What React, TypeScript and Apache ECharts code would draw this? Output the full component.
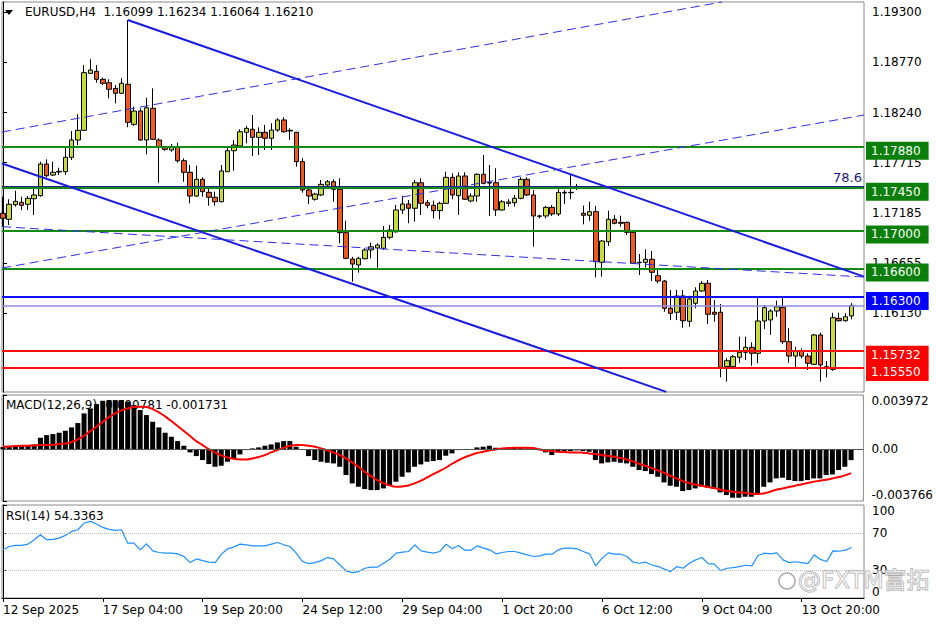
import React, { useEffect, useRef } from "react";
import * as echarts from "echarts";

// ---------- DATA ----------
const opens = [1.17180,1.17117,1.17271,1.17296,1.17275,1.17334,1.17366,1.17699,1.17583,1.17615,
1.17618,1.17770,1.17952,1.18054,1.18654,1.18676,1.18591,1.18555,1.18496,1.18444,
1.18539,1.18117,1.18257,1.17952,1.18286,1.17952,1.17875,1.17847,1.17875,1.17734,
1.17612,1.17362,1.17538,1.17401,1.17349,1.17302,1.17618,1.17839,1.17889,1.18033,
1.18065,1.17980,1.18033,1.17970,1.18057,1.18163,1.18054,1.18033,1.17724,1.17426,
1.17328,1.17373,1.17478,1.17513,1.17433,1.16976,1.16699,1.16636,1.16702,1.16794,
1.16815,1.16812,1.16927,1.16986,1.17215,1.17278,1.17233,1.17502,1.17292,1.17264,
1.17208,1.17285,1.17559,1.17366,1.17573,1.17310,1.17362,1.17591,1.17502,1.17502,
1.17215,1.17285,1.17292,1.17338,1.17538,1.17373,1.17152,1.17152,1.17243,1.17173,
1.17401,1.17397,1.17457,1.17180,1.17159,1.17197,1.16664,1.16881,1.17117,1.17085,
1.17085,1.16980,1.16664,1.16664,1.16696,1.16523,1.16467,1.16180,1.16138,1.16309,
1.16043,1.16232,1.16362,1.16443,1.16138,1.16138,1.15565,1.15565,1.15664,1.15716,
1.15769,1.15706,1.16046,1.16057,1.16151,1.16190,1.15828,1.15677,1.15733,1.15677,
1.15590,1.15899,1.15565,1.15537,1.16074,1.16049,1.16099];
const highs = [1.17355,1.17328,1.17418,1.17355,1.17362,1.17454,1.17724,1.17749,1.17724,1.17660,
1.17871,1.18047,1.18223,1.18742,1.18802,1.18742,1.18608,1.18591,1.18531,1.18602,
1.19216,1.18303,1.18286,1.18397,1.18496,1.17970,1.17889,1.17910,1.17924,1.17759,
1.17689,1.17681,1.17559,1.17460,1.17408,1.17689,1.17889,1.17952,1.18065,1.18099,
1.18215,1.18086,1.18110,1.18128,1.18181,1.18191,1.18075,1.18039,1.17759,1.17443,
1.17397,1.17531,1.17531,1.17538,1.17549,1.17102,1.16723,1.16723,1.16812,1.16871,
1.16864,1.17046,1.17057,1.17268,1.17362,1.17320,1.17531,1.17549,1.17320,1.17313,
1.17302,1.17618,1.17601,1.17612,1.17612,1.17391,1.17601,1.17794,1.17689,1.17654,
1.17320,1.17328,1.17373,1.17559,1.17559,1.17426,1.17165,1.17257,1.17268,1.17443,
1.17426,1.17583,1.17489,1.17260,1.17302,1.17257,1.16899,1.17208,1.17162,1.17155,
1.17092,1.16997,1.16752,1.16801,1.16783,1.16590,1.16478,1.16372,1.16372,1.16372,
1.16312,1.16401,1.16467,1.16478,1.16267,1.16225,1.15653,1.15688,1.15881,1.15881,
1.15822,1.16296,1.16214,1.16169,1.16260,1.16296,1.15969,1.15775,1.15758,1.15706,
1.15909,1.15923,1.15625,1.16133,1.16133,1.16127,1.16234];
const lows = [1.17039,1.17057,1.17250,1.17215,1.17215,1.17162,1.17355,1.17559,1.17573,1.17583,
1.17583,1.17741,1.17899,1.18050,1.18647,1.18555,1.18531,1.18391,1.18338,1.18436,
1.18086,1.18099,1.17945,1.17801,1.17952,1.17502,1.17839,1.17829,1.17713,1.17513,
1.17285,1.17355,1.17355,1.17260,1.17260,1.17296,1.17618,1.17629,1.17882,1.17917,
1.17784,1.17794,1.17847,1.17847,1.18039,1.18029,1.17952,1.17671,1.17397,1.17278,
1.17313,1.17362,1.17460,1.17302,1.16864,1.16696,1.16460,1.16555,1.16696,1.16706,
1.16607,1.16794,1.16906,1.16976,1.17173,1.17075,1.17092,1.17162,1.17233,1.17127,
1.17117,1.17278,1.17328,1.17162,1.17320,1.17296,1.17302,1.17485,1.17152,1.17152,
1.17208,1.17250,1.17250,1.17328,1.17362,1.16828,1.17127,1.17127,1.17152,1.17152,
1.17278,1.17328,1.17426,1.17064,1.17102,1.16506,1.16512,1.16836,1.17064,1.17039,
1.16952,1.16646,1.16530,1.16611,1.16467,1.16443,1.16144,1.16057,1.16057,1.15975,
1.15986,1.16180,1.16355,1.16014,1.16039,1.15453,1.15407,1.15548,1.15607,1.15635,
1.15575,1.15601,1.15962,1.15899,1.16091,1.15804,1.15607,1.15558,1.15653,1.15530,
1.15583,1.15407,1.15453,1.15522,1.16039,1.16039,1.16064];
const closes = [1.17127,1.17275,1.17306,1.17264,1.17338,1.17373,1.17699,1.17576,1.17612,1.17622,
1.17770,1.17952,1.18054,1.18661,1.18689,1.18591,1.18549,1.18486,1.18444,1.18549,
1.18138,1.18257,1.17952,1.18292,1.17959,1.17875,1.17854,1.17882,1.17734,1.17612,
1.17362,1.17538,1.17408,1.17349,1.17302,1.17626,1.17839,1.17899,1.18039,1.18075,
1.17980,1.18033,1.17970,1.18057,1.18163,1.18039,1.18047,1.17724,1.17426,1.17362,
1.17383,1.17485,1.17513,1.17433,1.16976,1.16706,1.16646,1.16706,1.16794,1.16828,
1.16846,1.16927,1.17004,1.17215,1.17278,1.17233,1.17502,1.17285,1.17264,1.17208,
1.17285,1.17559,1.17373,1.17573,1.17328,1.17362,1.17591,1.17496,1.17499,1.17215,
1.17302,1.17299,1.17338,1.17538,1.17373,1.17152,1.17149,1.17243,1.17173,1.17401,
1.17394,1.17401,1.17462,1.17159,1.17197,1.16670,1.16888,1.17117,1.17075,1.17075,
1.16980,1.16654,1.16660,1.16696,1.16559,1.16467,1.16180,1.16127,1.16309,1.16049,
1.16278,1.16362,1.16443,1.16117,1.16117,1.15558,1.15628,1.15670,1.15716,1.15769,
1.15706,1.16046,1.16186,1.16151,1.16196,1.15828,1.15677,1.15733,1.15677,1.15601,
1.15899,1.15583,1.15548,1.16081,1.16049,1.16091,1.16210];

const macdHist = [0.000170,0.000219,0.000243,0.000268,0.000292,0.000365,0.000852,0.001046,0.001119,0.001217,
0.001362,0.001606,0.001922,0.002628,0.002993,0.003309,0.003552,0.003601,0.003601,0.003601,
0.003479,0.003236,0.002871,0.002506,0.002019,0.001606,0.001217,0.000925,0.000608,0.000268,
-0.000219,-0.000487,-0.000779,-0.001071,-0.001265,-0.001192,-0.000900,-0.000657,-0.000365,-0.000049,
0.000073,0.000146,0.000268,0.000365,0.000511,0.000608,0.000608,0.000195,-0.000010,-0.000487,
-0.000779,-0.000900,-0.000973,-0.001022,-0.001265,-0.001873,-0.002482,-0.002725,-0.002895,-0.002968,
-0.002968,-0.002847,-0.002652,-0.002360,-0.001995,-0.001679,-0.001265,-0.001095,-0.000900,-0.000852,
-0.000779,-0.000462,-0.000292,-0.000049,-0.000010,0.000024,0.000146,0.000195,0.000268,0.000122,
0.000073,0.000122,0.000097,0.000097,0.000073,0.000073,0.000049,-0.000219,-0.000414,-0.000219,
-0.000170,-0.000122,-0.000073,-0.000122,-0.000170,-0.000779,-0.001022,-0.000949,-0.000900,-0.000973,
-0.001022,-0.001265,-0.001508,-0.001581,-0.001800,-0.001995,-0.002409,-0.002652,-0.002725,-0.003041,
-0.002968,-0.002847,-0.002725,-0.002798,-0.002895,-0.003139,-0.003333,-0.003528,-0.003528,-0.003455,
-0.003455,-0.003285,-0.002725,-0.002409,-0.002117,-0.002068,-0.002238,-0.002311,-0.002311,-0.002238,
-0.002117,-0.002117,-0.001873,-0.001825,-0.001508,-0.001265,-0.000781];

const macdSignal = [0.000195,0.000219,0.000243,0.000268,0.000268,0.000292,0.000316,0.000316,0.000341,0.000389,
0.000438,0.000535,0.000730,0.000998,0.001338,0.001654,0.002019,0.002360,0.002628,0.002847,
0.002993,0.003090,0.003114,0.003090,0.002944,0.002701,0.002409,0.002068,0.001703,0.001338,
0.000973,0.000608,0.000316,0.000024,-0.000219,-0.000438,-0.000584,-0.000681,-0.000730,-0.000730,
-0.000657,-0.000560,-0.000414,-0.000219,-0.000049,0.000122,0.000243,0.000316,0.000316,0.000268,
0.000195,0.000073,-0.000073,-0.000219,-0.000414,-0.000657,-0.000949,-0.001265,-0.001630,-0.001946,
-0.002238,-0.002457,-0.002628,-0.002725,-0.002701,-0.002628,-0.002482,-0.002287,-0.002044,-0.001800,
-0.001581,-0.001338,-0.001046,-0.000803,-0.000584,-0.000414,-0.000268,-0.000170,-0.000073,0.000000,
0.000073,0.000097,0.000122,0.000122,0.000122,0.000097,0.000000,-0.000073,-0.000122,-0.000170,
-0.000195,-0.000219,-0.000219,-0.000243,-0.000292,-0.000341,-0.000414,-0.000462,-0.000535,-0.000633,
-0.000730,-0.000876,-0.001046,-0.001192,-0.001362,-0.001533,-0.001703,-0.001922,-0.002117,-0.002311,
-0.002457,-0.002555,-0.002652,-0.002749,-0.002822,-0.002920,-0.003017,-0.003090,-0.003139,-0.003163,
-0.003236,-0.003260,-0.003212,-0.003090,-0.002944,-0.002847,-0.002749,-0.002652,-0.002555,-0.002457,
-0.002360,-0.002287,-0.002214,-0.002117,-0.002019,-0.001898,-0.001731];

const rsiValues = [51.8,55.4,56.5,56.5,57.9,62.6,68.0,62.6,63.0,64.4,
67.3,71.6,73.4,80.6,82.4,79.5,75.9,73.8,72.7,73.4,
59.0,59.0,51.8,58.3,50.7,48.9,48.2,48.2,47.5,44.6,
38.1,42.0,40.2,38.5,38.1,47.1,52.9,55.0,57.9,57.2,
56.1,56.1,56.1,57.9,59.7,57.2,55.4,48.2,39.2,37.0,
38.1,40.2,43.5,42.0,35.5,29.1,27.3,28.4,32.0,33.1,
33.1,37.4,41.7,48.2,49.3,50.0,57.2,50.7,49.3,48.2,
50.0,57.9,52.9,56.5,51.4,51.4,56.1,53.6,51.8,47.5,
48.9,50.0,50.0,48.2,46.4,44.6,45.3,47.1,47.1,51.8,
53.6,53.6,52.9,50.0,47.5,34.5,42.8,48.5,47.1,47.1,
44.6,38.5,37.4,38.5,35.5,33.8,31.0,28.4,33.8,32.0,
37.4,41.0,43.5,37.0,36.5,29.5,32.0,32.7,33.8,35.2,
34.5,45.7,48.2,47.5,48.5,41.0,38.0,39.0,38.0,37.0,
46.4,41.5,39.2,50.7,50.3,51.5,54.3363];

const xTickIndex = [0, 16, 32, 48, 64, 80, 96, 112, 128];
const xTickLabels = ["12 Sep 2025", "17 Sep 04:00", "19 Sep 20:00", "24 Sep 12:00", "29 Sep 04:00", "1 Oct 20:00", "6 Oct 12:00", "9 Oct 04:00", "13 Oct 20:00"];
const priceTicks = [1.1613, 1.16655, 1.17185, 1.17715, 1.1824, 1.1877, 1.193];
const macdTicks = [-0.003766, 0, 0.003972];
const rsiTicks = [0, 30, 70, 100];

const greenLevels = [1.1788, 1.1745, 1.17, 1.166];
const blueLevels = [1.163];
const redLevels = [1.15732, 1.1555];
const fibLevel = 1.17465;
const bidLevel = 1.1621;

// trend lines: [startIndex, startPrice, endIndex, endPrice]
const solidTrends = [
  [20, 1.19216, 137.98, 1.16513],
  [-0.16, 1.17705, 106.3, 1.153],
];
const dashedTrends = [
  [-0.16, 1.18036, 115.2, 1.19405],
  [-0.16, 1.16604, 137.98, 1.18215],
  [-0.16, 1.17039, 137.98, 1.16509],
];

const headerText = "EURUSD,H4  1.16099 1.16234 1.16064 1.16210";
const macdText = "MACD(12,26,9) -0.000781 -0.001731";
const rsiText = "RSI(14) 54.3363";

// ---------- OPTION ----------
const FONT = "'DejaVu Sans', sans-serif";
const X_MIN = -0.16;
const X_MAX = 137.98;

function levelLabel(text: string, bg: string) {
  return {
    show: true,
    position: "end",
    formatter: text,
    color: "#fff",
    backgroundColor: bg,
    padding: [2, 8, 2, 5],
    lineHeight: 14,
    fontSize: 12,
    fontFamily: FONT,
    distance: 2,
    offset: [0, 4],
  };
}

function hLine(price: number, color: string, width: number, label: any) {
  return [
    { coord: [X_MIN, price], lineStyle: { color, width, type: "solid" }, label },
    { coord: [X_MAX, price] },
  ];
}

function buildOption() {
  const candleData = opens.map((o, i) => [i, o, closes[i], lows[i], highs[i]]);
  const lineItems: any[] = [];
  lineItems.push(
    hLine(fibLevel, "#20208a", 1, {
      show: true,
      position: "insideEndTop",
      formatter: "78.6",
      color: "#1a1a7a",
      fontSize: 13,
      fontFamily: FONT,
      distance: 2,
    })
  );
  greenLevels.forEach((p) => lineItems.push(hLine(p, "#138a13", 2, levelLabel(p.toFixed(5), "#0a800a"))));
  lineItems.push(hLine(bidLevel, "#8c8ce0", 1.5, { show: false }));
  blueLevels.forEach((p) => lineItems.push(hLine(p, "#1010ff", 2, levelLabel(p.toFixed(5), "#0000ff"))));
  redLevels.forEach((p) => lineItems.push(hLine(p, "#ff1010", 2, levelLabel(p.toFixed(5), "#ff0000"))));
  solidTrends.forEach((t) =>
    lineItems.push([
      { coord: [t[0], t[1]], lineStyle: { color: "#1a1ae0", width: 2, type: "solid" }, label: { show: false } },
      { coord: [t[2], t[3]] },
    ])
  );
  dashedTrends.forEach((t) =>
    lineItems.push([
      { coord: [t[0], t[1]], lineStyle: { color: "#2f2fe6", width: 1, type: [9, 5] }, label: { show: false } },
      { coord: [t[2], t[3]] },
    ])
  );

  const baseX = {
    type: "value",
    min: X_MIN,
    max: X_MAX,
    splitLine: { show: false },
    axisLine: { show: false },
    axisTick: { show: false },
    axisLabel: { show: false },
  };

  const labelStyle = { color: "#000", fontSize: 12, fontFamily: FONT };

  return {
    animation: false,
    backgroundColor: "#fff",
    grid: [
      { left: 2, top: 2, width: 862, height: 390, show: true, borderColor: "#8a8a8a", borderWidth: 1 },
      { left: 2, top: 395, width: 862, height: 106, show: true, borderColor: "#8a8a8a", borderWidth: 1 },
      { left: 2, top: 505, width: 862, height: 93, show: true, borderColor: "#8a8a8a", borderWidth: 1 },
    ],
    xAxis: [
      { ...baseX, gridIndex: 0 },
      { ...baseX, gridIndex: 1 },
      {
        ...baseX,
        gridIndex: 2,
        position: "bottom",
        axisLine: { show: true, lineStyle: { color: "#000" } },
        axisTick: { show: true, customValues: xTickIndex, length: 4, lineStyle: { color: "#000" } },
        axisLabel: {
          show: true,
          customValues: xTickIndex,
          formatter: (v: number) => {
            const k = xTickIndex.indexOf(Math.round(v));
            return k >= 0 ? xTickLabels[k] : "";
          },
          align: "left",
          margin: 6,
          ...labelStyle,
        },
      },
    ],
    yAxis: [
      {
        type: "value",
        gridIndex: 0,
        position: "right",
        min: 1.152983,
        max: 1.194053,
        splitLine: { show: false },
        axisLine: { show: true, lineStyle: { color: "#000" } },
        axisTick: { show: true, customValues: priceTicks, length: 4, lineStyle: { color: "#000" } },
        axisLabel: { customValues: priceTicks, formatter: (v: number) => v.toFixed(5), margin: 8, ...labelStyle },
      },
      {
        type: "value",
        gridIndex: 1,
        position: "right",
        min: -0.003766,
        max: 0.003972,
        splitLine: { show: false },
        axisLine: { show: true, lineStyle: { color: "#000" } },
        axisTick: { show: true, customValues: macdTicks, length: 4, lineStyle: { color: "#000" } },
        axisLabel: {
          customValues: macdTicks,
          formatter: (v: number) => (Math.abs(v) < 1e-9 ? "0.00" : v.toFixed(6)),
          margin: 8,
          verticalAlignMaxLabel: "top",
          verticalAlignMinLabel: "bottom",
          ...labelStyle,
        },
      },
      {
        type: "value",
        gridIndex: 2,
        position: "right",
        min: 0,
        max: 100,
        splitLine: { show: false },
        axisLine: { show: true, lineStyle: { color: "#000" } },
        axisTick: { show: true, customValues: rsiTicks, length: 4, lineStyle: { color: "#000" } },
        axisLabel: {
          customValues: rsiTicks,
          formatter: (v: number) => String(Math.round(v)),
          margin: 8,
          verticalAlignMaxLabel: "top",
          verticalAlignMinLabel: "bottom",
          ...labelStyle,
        },
      },
    ],
    series: [
      {
        type: "candlestick",
        xAxisIndex: 0,
        yAxisIndex: 0,
        data: candleData,
        encode: { x: 0, y: [1, 2, 3, 4] },
        barWidth: 5,
        z: 2,
        itemStyle: {
          color: "#c8db3a",
          color0: "#f0581e",
          borderColor: "#000",
          borderColor0: "#000",
          borderColorDoji: "#000",
          borderWidth: 1,
        },
      },
      {
        type: "line",
        xAxisIndex: 0,
        yAxisIndex: 0,
        data: [],
        z: 5,
        markLine: {
          silent: true,
          symbol: ["none", "none"],
          animation: false,
          data: lineItems,
        },
      },
      {
        type: "bar",
        xAxisIndex: 1,
        yAxisIndex: 1,
        data: macdHist.map((v, i) => [i, v]),
        barWidth: 5,
        itemStyle: { color: "#000" },
        markLine: {
          silent: true,
          symbol: ["none", "none"],
          label: { show: false },
          lineStyle: { color: "#555", width: 1, type: "solid" },
          data: [{ yAxis: 0 }],
        },
      },
      {
        type: "line",
        xAxisIndex: 1,
        yAxisIndex: 1,
        data: macdSignal.map((v, i) => [i, v]),
        showSymbol: false,
        smooth: true,
        lineStyle: { color: "#ff0000", width: 2 },
        itemStyle: { color: "#ff0000" },
        z: 4,
      },
      {
        type: "line",
        xAxisIndex: 2,
        yAxisIndex: 2,
        data: rsiValues.map((v, i) => [i, v]),
        showSymbol: false,
        lineStyle: { color: "#1e90ff", width: 1.2 },
        itemStyle: { color: "#1e90ff" },
        markLine: {
          silent: true,
          symbol: ["none", "none"],
          label: { show: false },
          lineStyle: { color: "#b8b8b8", width: 1, type: "dotted" },
          data: [{ yAxis: 70 }, { yAxis: 30 }],
        },
      },
    ],
    graphic: [
      { type: "polygon", z: 0, shape: { points: [[5, 10], [13, 10], [9, 15]] }, style: { fill: "#000" } },
      { type: "text", z: 0, x: 25, y: 6, style: { text: headerText, font: `12px ${FONT}`, fill: "#000" } },
      { type: "text", z: 0, x: 6, y: 399, style: { text: macdText, font: `12px ${FONT}`, fill: "#000" } },
      { type: "text", z: 0, x: 6, y: 510, style: { text: rsiText, font: `12px ${FONT}`, fill: "#000" } },
      { type: "circle", z: 100, shape: { cx: 787, cy: 581, r: 8 }, style: { fill: "rgba(255,255,255,0.5)", stroke: "#a8a8a8", lineWidth: 1.5 } },
      {
        type: "text",
        z: 100,
        x: 798,
        y: 568,
        style: {
          text: "@FXTM富拓",
          font: `23px 'DejaVu Sans', 'Noto Sans CJK SC', sans-serif`,
          fill: "rgba(255,255,255,0.55)",
          stroke: "#a8a8a8",
          lineWidth: 1,
        },
      },
    ],
  };
}

export default function App() {
  const ref = useRef<HTMLDivElement>(null);
  useEffect(() => {
    const chart = echarts.init(ref.current!, null, { renderer: "svg" });
    chart.setOption(buildOption() as any);
    return () => chart.dispose();
  }, []);
  return (
    <div
      ref={ref}
      style={{ position: "fixed", left: 0, top: 0, width: 936, height: 624, background: "#fff" }}
    />
  );
}
